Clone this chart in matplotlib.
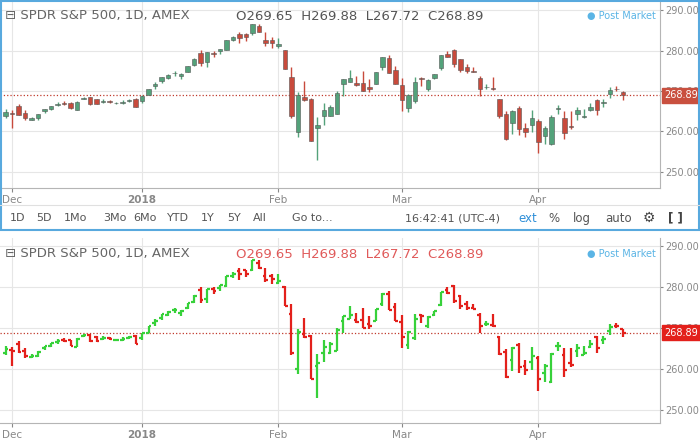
import matplotlib
matplotlib.use("Agg")
import matplotlib.pyplot as plt
import matplotlib.transforms as mtransforms
from matplotlib.patches import Rectangle

# daily OHLC, SPY, 30 Nov 2017 .. 19 Apr 2018
opens = [263.9, 264.6, 266.2, 264.5, 262.9, 263.2, 265.1, 265.6, 266.6, 267.0,
         267.1, 265.4, 268.1, 268.4, 267.9, 267.3, 267.6, 267.0, 267.0, 267.6,
         268.0, 267.6, 268.9, 271.2, 272.5, 273.3, 274.4, 273.7, 274.8, 276.4,
         279.4, 277.1, 279.5, 279.8, 280.2, 282.7, 284.0, 284.2, 284.3, 286.0,
         282.6, 282.7, 281.1, 280.1, 273.5, 259.9, 268.5, 268.0, 260.8, 263.8,
         263.9, 264.3, 271.6, 272.3, 272.0, 271.9, 271.1, 271.8, 275.9, 278.2,
         275.2, 271.4, 265.8, 267.5, 273.3, 270.4, 273.3, 275.7, 279.2, 280.2,
         277.8, 275.9, 275.0, 273.3, 270.9, 270.8, 267.9, 264.2, 262.1, 265.9,
         260.8, 261.6, 262.6, 258.9, 256.8, 265.6, 263.4, 261.4, 264.3, 263.5,
         265.3, 267.8, 267.0, 269.3, 270.5, 269.65]
highs = [265.5, 265.3, 266.8, 265.2, 263.6, 264.3, 265.6, 266.4, 267.3, 267.6,
         267.2, 267.5, 268.6, 268.5, 268.1, 268.0, 267.7, 267.3, 267.7, 268.0,
         268.3, 268.9, 270.6, 272.2, 273.5, 274.1, 275.0, 274.4, 276.1, 278.1,
         280.1, 279.6, 280.0, 280.4, 282.7, 283.6, 284.7, 284.3, 286.6, 286.6,
         284.7, 283.3, 283.1, 280.2, 275.9, 269.7, 272.4, 268.2, 263.6, 267.0,
         266.6, 270.0, 273.0, 275.3, 273.7, 275.0, 273.0, 274.7, 278.5, 279.0,
         276.2, 273.2, 269.2, 273.4, 273.4, 273.0, 274.2, 278.9, 280.0, 280.4,
         278.0, 276.6, 275.9, 273.6, 271.7, 273.4, 268.0, 265.0, 265.4, 266.3,
         262.1, 265.3, 263.1, 261.3, 264.0, 266.6, 265.1, 265.1, 266.0, 265.6,
         267.0, 268.0, 268.1, 270.9, 271.3, 269.88]
lows = [263.4, 260.8, 264.0, 262.8, 262.7, 262.9, 264.6, 265.3, 266.2, 266.6,
        265.6, 265.3, 267.9, 266.6, 266.7, 267.1, 267.0, 266.8, 266.8, 267.3,
        266.0, 267.0, 268.9, 270.6, 271.9, 273.0, 273.6, 272.9, 274.6, 276.2,
        276.2, 276.0, 278.3, 279.1, 280.1, 282.3, 281.8, 282.4, 283.9, 284.5,
        281.2, 280.7, 280.7, 275.4, 263.3, 258.7, 267.6, 257.6, 252.9, 261.7,
        263.7, 264.3, 268.8, 272.3, 271.2, 269.9, 269.8, 271.6, 275.3, 274.4,
        271.6, 265.1, 264.8, 267.0, 271.2, 270.0, 272.9, 275.3, 278.3, 276.0,
        274.7, 274.4, 274.6, 268.8, 270.5, 270.2, 263.4, 257.8, 259.4, 259.1,
        258.6, 259.8, 254.7, 256.8, 256.6, 264.4, 258.0, 260.6, 262.9, 263.4,
        265.1, 264.0, 266.1, 268.3, 269.9, 267.72]
closes = [264.8, 264.4, 264.1, 263.2, 263.2, 264.2, 265.5, 266.3, 266.8, 266.9,
          265.7, 267.3, 268.2, 266.8, 266.9, 267.5, 267.3, 267.0, 267.3, 267.8,
          266.1, 268.8, 270.5, 271.6, 273.4, 273.9, 274.5, 274.1, 276.1, 277.9,
          276.9, 279.6, 279.1, 280.4, 282.7, 283.3, 283.2, 283.3, 286.6, 284.7,
          281.8, 281.9, 281.6, 275.5, 263.9, 269.1, 267.7, 257.6, 261.5, 265.3,
          266.0, 269.6, 273.0, 273.1, 271.4, 269.9, 270.4, 274.7, 278.4, 274.4,
          271.6, 267.7, 269.1, 272.2, 272.9, 272.8, 274.1, 278.9, 278.5, 276.7,
          275.3, 275.0, 274.7, 270.5, 270.9, 270.4, 263.7, 258.1, 265.1, 260.6,
          259.8, 263.2, 257.5, 260.8, 263.6, 265.6, 259.7, 261.0, 265.2, 263.8,
          266.0, 265.2, 267.3, 270.2, 270.4, 268.89]

month_labels = ["Dec", "2018", "Feb", "Mar", "Apr"]
month_index = [1, 21, 42, 61, 82]
price_ticks = [250, 260, 270, 280, 290]
last_price = 268.89

W, H = 700, 440
fig = plt.figure(figsize=(7, 4.4), dpi=100)


def px_axes(x0, y0, x1, y1):
    return fig.add_axes([x0 / W, 1 - y1 / H, (x1 - x0) / W, (y1 - y0) / H])


def ftext(x, y, s, **kw):
    kw.setdefault("va", "center")
    fig.text(x / W, 1 - y / H, s, **kw)


def setup(ax, ylim):
    ax.set_xlim(-0.85, 100.7)
    ax.set_ylim(*ylim)
    ax.set_yticks(price_ticks)
    ax.set_yticklabels([f"{p:.2f}" for p in price_ticks])
    ax.yaxis.tick_right()
    ax.tick_params(axis="y", length=2, colors="#888888", labelsize=7, pad=2)
    ax.set_xticks(month_index)
    ax.set_xticklabels(month_labels)
    ax.tick_params(axis="x", length=3, colors="#888888", labelsize=7.5, pad=2)
    ax.get_xticklabels()[1].set_fontweight("bold")
    ax.grid(True, color="#e6e6e6", linewidth=0.8)
    ax.set_axisbelow(True)
    for side in ["top", "left"]:
        ax.spines[side].set_visible(False)
    for side in ["right", "bottom"]:
        ax.spines[side].set_color("#b5b5b5")
    ax.axhline(last_price, color="#c0392b", linestyle=":", linewidth=0.9)


def price_box(ax, color):
    tr = mtransforms.blended_transform_factory(ax.transAxes, ax.transData)
    ax.text(1.006, last_price, f"{last_price:.2f}", transform=tr, color="white",
            fontsize=7, va="center", ha="left", zorder=5,
            bbox=dict(boxstyle="square,pad=0.25", facecolor=color, edgecolor=color))


# ---- top panel: candlesticks
ax1 = px_axes(0, 0, 660, 188)
setup(ax1, (246.0, 292.5))
up_c, dn_c = "#53a27a", "#c84a3c"
for i in range(len(closes)):
    o, h, l, c = opens[i], highs[i], lows[i], closes[i]
    col = up_c if c >= o else dn_c
    ax1.vlines(i, l, h, color=col, linewidth=1, zorder=2)
    body = max(abs(c - o), 0.12)
    ax1.add_patch(Rectangle((i - 0.33, min(o, c)), 0.66, body, facecolor=col,
                            edgecolor="#555555", linewidth=0.4, zorder=3))
price_box(ax1, "#c9503f")

# ---- bottom panel: OHLC bars
ax2 = px_axes(0, 238, 660, 423)
setup(ax2, (246.8, 292.0))
up_b, dn_b = "#37d13a", "#e3201b"
for i in range(len(closes)):
    o, h, l, c = opens[i], highs[i], lows[i], closes[i]
    col = up_b if c >= o else dn_b
    ax2.vlines(i, l, h, color=col, linewidth=1.6)
    ax2.hlines(o, i - 0.4, i, color=col, linewidth=1.6)
    ax2.hlines(c, i, i + 0.4, color=col, linewidth=1.6)
price_box(ax2, "#e3201b")

# ---- headers
for y0, vcol in [(16, "#555555"), (254, "#e05a5a")]:
    ftext(5, y0, "⊟ SPDR S&P 500, 1D, AMEX", fontsize=9.5, color="#666666")
    ftext(236, y0, "O269.65  H269.88  L267.72  C268.89", fontsize=9.5, color=vcol)
    ftext(587, y0, "● Post Market", fontsize=7, color="#5ab4e5")

# ---- toolbar of the top widget
fig.add_artist(plt.Line2D([0, 1], [1 - 205 / H] * 2, color="#e0e0e0", linewidth=0.8))
for x, s in zip([10, 36, 64, 103, 133, 167, 201, 227, 253],
                ["1D", "5D", "1Mo", "3Mo", "6Mo", "YTD", "1Y", "5Y", "All"]):
    ftext(x, 218, s, fontsize=8, color="#555555")
ftext(292, 218, "Go to...", fontsize=8, color="#555555")
ftext(405, 218, "16:42:41 (UTC-4)", fontsize=8, color="#555555")
ftext(518, 218, "ext", fontsize=8.5, color="#2f8fd8")
ftext(548, 218, "%", fontsize=8.5, color="#555555")
ftext(573, 218, "log", fontsize=8.5, color="#555555")
ftext(605, 218, "auto", fontsize=8.5, color="#555555")
ftext(643, 218, "⚙", fontsize=10, color="#444444")
ftext(668, 218, "[ ]", fontsize=8.5, color="#444444", fontweight="bold")

fig.add_artist(Rectangle((0.5 / W, 1 - 230 / H), 698.5 / W, 229 / H,
                         transform=fig.transFigure, fill=False,
                         edgecolor="#58a9de", linewidth=1.5))

fig.savefig("out.png", dpi=100)
